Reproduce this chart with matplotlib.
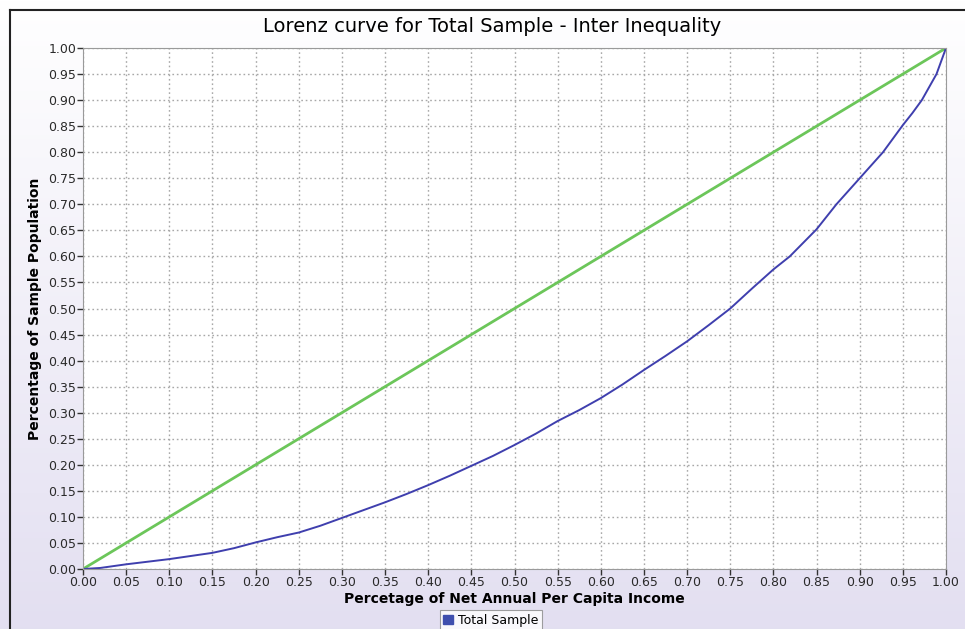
import numpy as np
import matplotlib
matplotlib.use("Agg")
import matplotlib.pyplot as plt
from matplotlib.lines import Line2D

# cumulative shares
income_share = [0.0, 0.02, 0.05, 0.075, 0.10, 0.125, 0.15, 0.175, 0.20, 0.225, 0.25, 0.275, 0.30,
                0.325, 0.35, 0.375, 0.40, 0.425, 0.45, 0.475, 0.50, 0.525, 0.55, 0.575, 0.60,
                0.625, 0.65, 0.675, 0.70, 0.725, 0.75, 0.775, 0.80, 0.819, 0.85, 0.873, 0.90,
                0.927, 0.95, 0.961, 0.972, 0.989, 1.0]
population_share = [0.0, 0.002, 0.009, 0.014, 0.019, 0.025, 0.031, 0.040, 0.051, 0.061, 0.070, 0.083, 0.098,
                    0.113, 0.128, 0.144, 0.161, 0.179, 0.198, 0.217, 0.238, 0.260, 0.284, 0.305, 0.328,
                    0.354, 0.382, 0.409, 0.437, 0.468, 0.500, 0.538, 0.575, 0.600, 0.652, 0.700, 0.750,
                    0.800, 0.852, 0.875, 0.900, 0.950, 1.0]
equality = [0.0, 1.0]
tick_values = np.round(np.arange(0, 1.0001, 0.05), 2)

fig = plt.figure(figsize=(9.65, 6.29), dpi=100)

# lavender gradient background
bg = fig.add_axes([0, 0, 1, 1], zorder=-10)
grad = np.linspace(0, 1, 256).reshape(-1, 1)
top = np.array([1.0, 1.0, 1.0])
bottom = np.array([0.89, 0.875, 0.945])
img = top + (bottom - top) * grad[..., None]
bg.imshow(img, aspect='auto', extent=[0, 1, 0, 1], origin='upper')
bg.axis('off')

# frame lines at top and left
fig.add_artist(Line2D([10/965, 10/965], [0, 1 - 10/629], color='#222222', lw=1.5))
fig.add_artist(Line2D([10/965, 1], [1 - 10/629, 1 - 10/629], color='#222222', lw=1.5))

ax = fig.add_axes([83/965, 60/629, 863/965, 521/629])
ax.set_facecolor('white')
ax.plot(equality, equality, color='#6cc65a', lw=2)
ax.plot(income_share, population_share, color='#3f3fae', lw=1.4, label='Total Sample')

ax.set_xlim(0, 1)
ax.set_ylim(0, 1)
ax.set_xticks(tick_values)
ax.set_yticks(tick_values)
ax.set_xticklabels(['%.2f' % v for v in tick_values])
ax.set_yticklabels(['%.2f' % v for v in tick_values])
ax.tick_params(labelsize=9, length=4, width=1, color='#333333', labelcolor='#2a2a2a', pad=1)
ax.grid(True, color='#a8a8a8', linestyle=(0, (1.2, 2.0)), lw=1.0)
for s in ax.spines.values():
    s.set_color('#9a9a9a')

ax.set_xlabel('Percetage of Net Annual Per Capita Income', fontsize=10, fontweight='bold', labelpad=2)
ax.set_ylabel('Percentage of Sample Population', fontsize=10, fontweight='bold', labelpad=4)

fig.text(492/965, 1 - 27/629, 'Lorenz curve for Total Sample - Inter Inequality',
         ha='center', va='center', fontsize=14)

handle = [plt.Rectangle((0, 0), 1, 1, facecolor='#3f4fae', edgecolor='#3f4fae')]
leg = fig.legend(handle, ['Total Sample'], loc='upper center', bbox_to_anchor=(491/965, 1 - 610/629),
                 fontsize=9, frameon=True, fancybox=False, handlelength=0.8, handleheight=0.8,
                 borderpad=0.3, handletextpad=0.4, borderaxespad=0)
leg.get_frame().set_edgecolor('#888888')
leg.get_frame().set_linewidth(0.8)

plt.savefig('out.png', dpi=100)
